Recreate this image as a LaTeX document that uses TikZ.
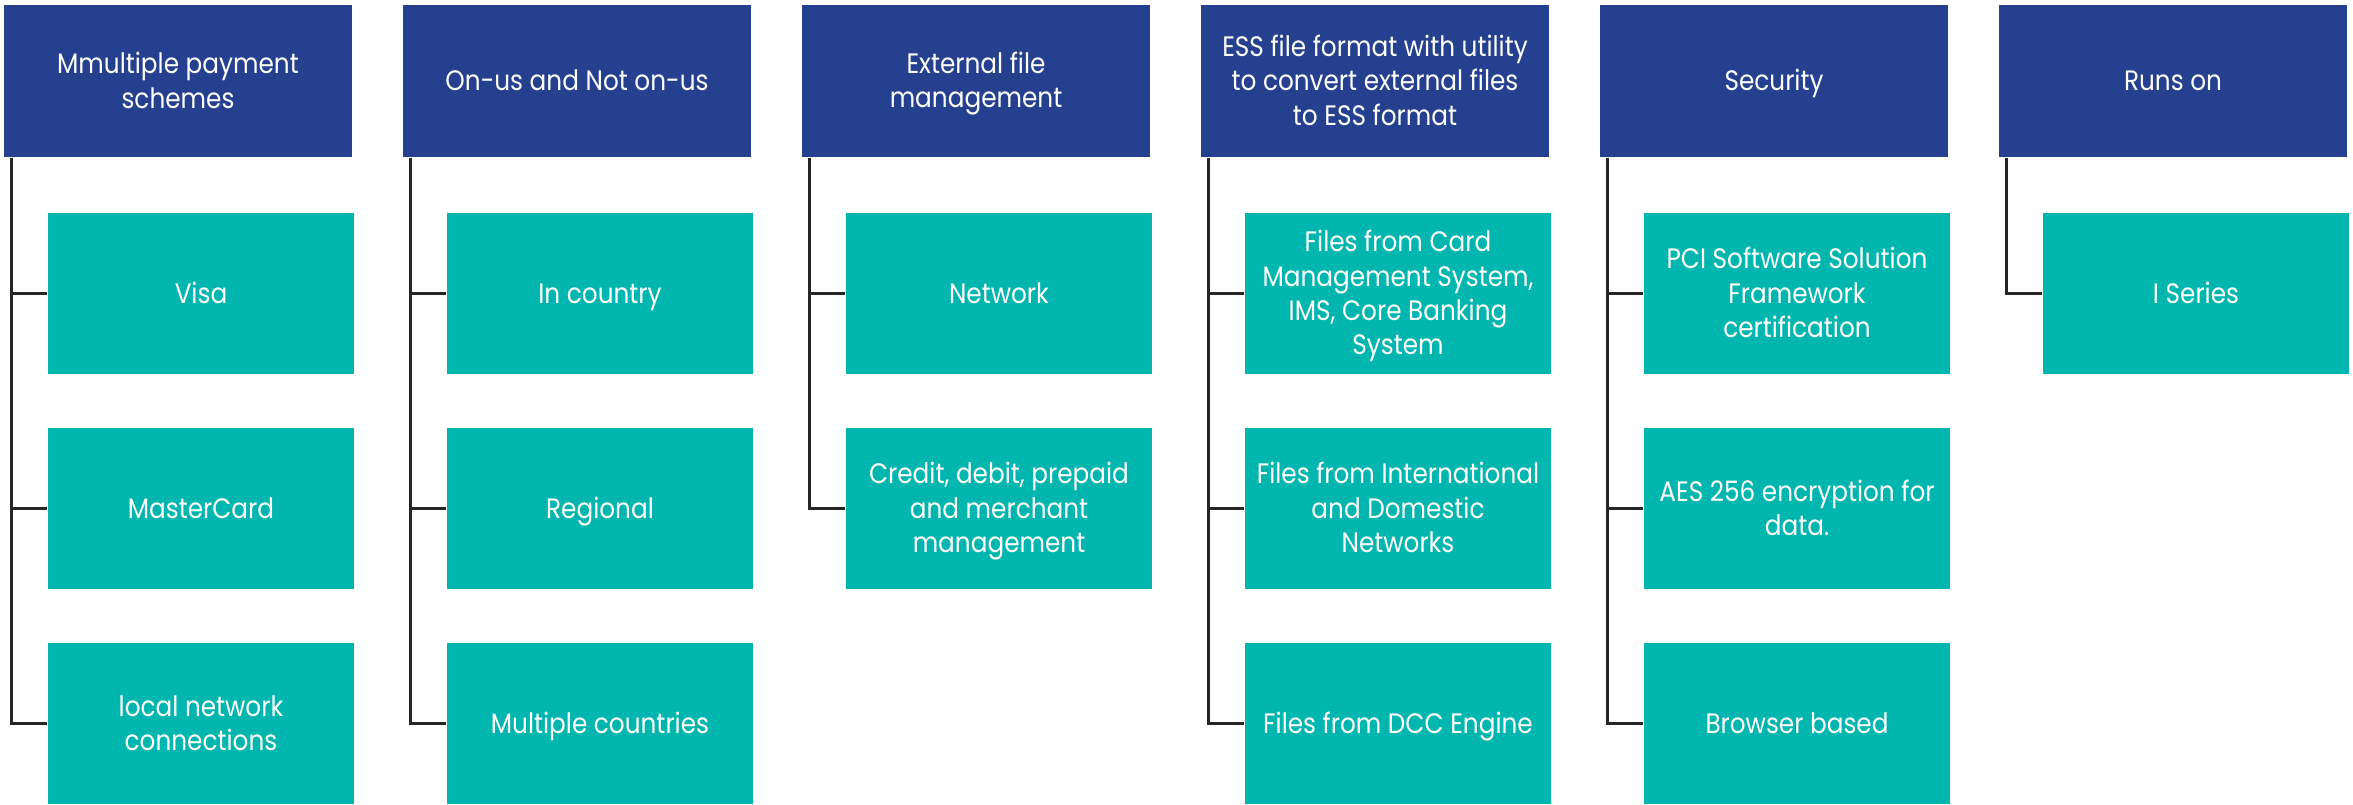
\documentclass[tikz,border=0pt]{standalone}
\usepackage{fontspec}
\setmainfont{Poppins}[FakeStretch=0.88]
\usetikzlibrary{calc}
\definecolor{hdrblue}{RGB}{37,64,142}
\definecolor{teal}{RGB}{0,182,174}
\definecolor{linecol}{RGB}{38,38,38}
\newcommand{\vst}{\rule[-2pt]{0pt}{9.6pt}}
\tikzset{
  hdr/.style={fill=hdrblue, text=white, minimum width=3.48cm, minimum height=1.52cm, inner sep=0pt, align=center, font=\fontsize{8}{9.8}\selectfont},
  child/.style={fill=teal, text=white, minimum width=3.06cm, minimum height=1.61cm, inner sep=0pt, align=center, font=\fontsize{8}{9.8}\selectfont},
  conn/.style={draw=linecol, line width=0.85pt}
}
\begin{document}
\begin{tikzpicture}[x=1cm,y=1cm]
\useasboundingbox (0,0) rectangle (23.53,-8.04);
% headers: left = 0.04 + 3.99*i, width 3.48, top -0.05, height 1.52
\foreach \i/\t in {1/{Mmultiple payment\\schemes},2/{On-us and Not on-us},3/{External file\\management},4/{ESS file format with utility\\to convert external files\\to ESS format},5/{Security},6/{Runs on}}{
  \node[hdr] (h\i) at ({0.04+3.99*(\i-1)+1.74},-0.81) {\vst\t\vst};
  \coordinate (t\i) at ($(h\i.south west)+(0.08,0)$);
}
% children
\newcommand{\childnode}[4]{% col, row, name, text
  \node[child] (#3) at ({0.04+3.99*(#1-1)+0.44+1.53},{-(2.13+2.15*(#2-1)+0.805)}) {\vst#4\vst};
}
\childnode{1}{1}{c11}{Visa}
\childnode{1}{2}{c12}{MasterCard}
\childnode{1}{3}{c13}{local network\\connections}
\childnode{2}{1}{c21}{In country}
\childnode{2}{2}{c22}{Regional}
\childnode{2}{3}{c23}{Multiple countries}
\childnode{3}{1}{c31}{Network}
\childnode{3}{2}{c32}{Credit, debit, prepaid\\and merchant\\management}
\childnode{4}{1}{c41}{Files from Card\\Management System,\\IMS, Core Banking\\System}
\childnode{4}{2}{c42}{Files from International\\and Domestic\\Networks}
\childnode{4}{3}{c43}{Files from DCC Engine}
\childnode{5}{1}{c51}{PCI Software Solution\\Framework\\certification}
\childnode{5}{2}{c52}{AES 256 encryption for\\data.}
\childnode{5}{3}{c53}{Browser based}
\childnode{6}{1}{c61}{I Series}
% connectors
\draw[conn] (t1) |- (c11.west);
\draw[conn] (t1) |- (c12.west);
\draw[conn] (t1) |- (c13.west);
\draw[conn] (t2) |- (c21.west);
\draw[conn] (t2) |- (c22.west);
\draw[conn] (t2) |- (c23.west);
\draw[conn] (t3) |- (c31.west);
\draw[conn] (t3) |- (c32.west);
\draw[conn] (t4) |- (c41.west);
\draw[conn] (t4) |- (c42.west);
\draw[conn] (t4) |- (c43.west);
\draw[conn] (t5) |- (c51.west);
\draw[conn] (t5) |- (c52.west);
\draw[conn] (t5) |- (c53.west);
\draw[conn] (t6) |- (c61.west);
\end{tikzpicture}
\end{document}
